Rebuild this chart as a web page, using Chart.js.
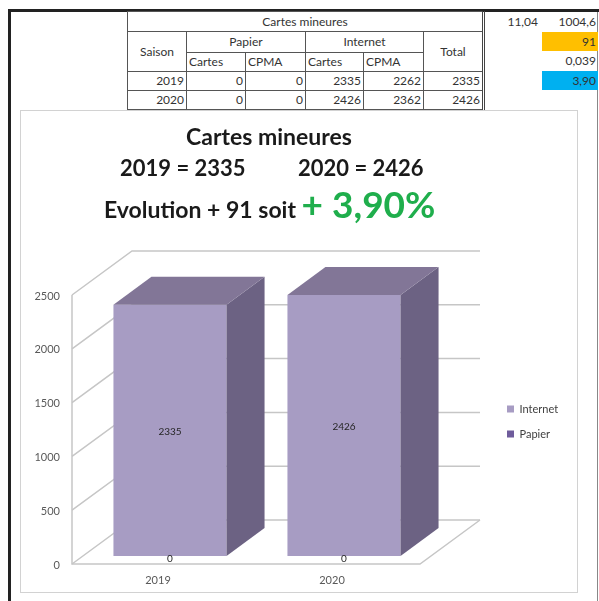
<!DOCTYPE html>
<html>
<head>
<meta charset="utf-8">
<script src="https://cdn.jsdelivr.net/npm/chart.js@4"></script>
<style>
body { margin: 0; width: 599px; height: 601px; position: relative; overflow: hidden; background: #fff; font-family: Lato, "Open Sans", sans-serif; }
.line { position: absolute; background: #222; }
table.sheet { position: absolute; left: 127px; top: 11px; border-collapse: collapse; table-layout: fixed; font-size: 12px; color: #333; }
table.sheet td { border: 1px solid #555; padding: 0 2px; white-space: nowrap; overflow: hidden; line-height: 14px; }
table.sheet td.c { text-align: center; }
table.sheet td.r { text-align: right; }
table.sheet td.last { border-right: 3px double #444; }
.side { position: absolute; width: 56px; height: 19px; line-height: 19px; text-align: right; font-size: 12px; color: #333; padding-right: 2px; box-sizing: border-box; }
#box { position: absolute; left: 20px; top: 110px; width: 556px; height: 481px; border: 1px solid #d2d2d2; }
.title { position: absolute; font-weight: bold; color: #1a1a1a; white-space: nowrap; }
</style>
</head>
<body>
<div class="line" style="left:8px;top:9px;width:3px;height:592px"></div>
<div class="line" style="left:8px;top:9px;width:591px;height:3px"></div>
<div class="line" style="left:597px;top:12px;width:1px;height:589px;background:#888"></div>

<table class="sheet" id="sheet">
  <colgroup><col style="width:59px"><col style="width:59px"><col style="width:60px"><col style="width:58px"><col style="width:60px"><col style="width:60px"></colgroup>
  <tr style="height:20px"><td colspan="6" class="c last">Cartes mineures</td></tr>
  <tr style="height:21px"><td rowspan="2" class="c">Saison</td><td colspan="2" class="c">Papier</td><td colspan="2" class="c">Internet</td><td rowspan="2" class="c last">Total</td></tr>
  <tr style="height:19px"><td>Cartes</td><td>CPMA</td><td>Cartes</td><td>CPMA</td></tr>
</table>

<div class="side" style="left:484px;top:12px">11,04</div>
<div class="side" style="left:542px;top:12px">1004,6</div>
<div class="side" style="left:542px;top:32px;background:#ffbf00">91</div>
<div class="side" style="left:542px;top:51px">0,039</div>
<div class="side" style="left:542px;top:71px;background:#00b0f0">3,90</div>

<div id="box"><canvas id="chart" width="556" height="481"></canvas></div>

<div class="title" style="left:0;width:538px;text-align:center;top:122px;font-size:23px">Cartes mineures</div>
<div class="title" id="t19" style="left:120px;top:154px;font-size:22px"></div>
<div class="title" id="t20" style="left:298px;top:154px;font-size:22px"></div>
<div class="title" style="left:104px;top:184px;font-size:23px;line-height:40px">Evolution + 91 soit <span style="color:#1fae4c;font-size:37px;vertical-align:baseline">+ 3,90%</span></div>

<script>
// table values
const saisons = ['2019', '2020'];
const papierCartes = [0, 0];
const papierCpma = [0, 0];
const internetCartes = [2335, 2426];
const internetCpma = [2262, 2362];
const totaux = [2335, 2426];

// y axis
const yMax = 2500;
const yStep = 500;

const frontColor = '#a79cc3';
const topColor = '#827697';
const sideColor = '#6c6283';
const papierColor = '#6f5c9c';

// fill the sheet rows
const sheet = document.getElementById('sheet');
saisons.forEach((s, i) => {
    const tr = sheet.insertRow();
    tr.style.height = '19px';
    [s, papierCartes[i], papierCpma[i], internetCartes[i], internetCpma[i], totaux[i]].forEach((v, j) => {
        const td = tr.insertCell();
        td.className = j === 5 ? 'r last' : 'r';
        td.textContent = v;
    });
});
document.getElementById('t19').textContent = saisons[0] + ' = ' + totaux[0];
document.getElementById('t20').textContent = saisons[1] + ' = ' + totaux[1];

// fake 3D: offsets from the bar plane
const BAR_DEPTH = [38, -28];
const FRONT = [-11, 8];
const BACK = [49, -36];

const box3d = {
    id: 'box3d',
    beforeDatasetsDraw(chart) {
        const { ctx, chartArea: a, scales: { y } } = chart;
        const y0 = y.getPixelForValue(0);
        const yTop = y.getPixelForValue(yMax);
        ctx.save();
        ctx.strokeStyle = '#c6c6c6';
        ctx.lineWidth = 1.5;
        ctx.beginPath();
        ctx.moveTo(a.left + FRONT[0], yTop + FRONT[1]);
        ctx.lineTo(a.left + FRONT[0], y0 + FRONT[1]);
        ctx.lineTo(a.right + FRONT[0], y0 + FRONT[1]);
        ctx.lineTo(a.right + BACK[0], y0 + BACK[1]);
        ctx.stroke();
        y.ticks.forEach(t => {
            const py = y.getPixelForValue(t.value);
            ctx.beginPath();
            ctx.moveTo(a.left + FRONT[0], py + FRONT[1]);
            ctx.lineTo(a.left + BACK[0], py + BACK[1]);
            ctx.lineTo(a.right + BACK[0], py + BACK[1]);
            ctx.stroke();
        });
        ctx.restore();
    },
    afterDatasetsDraw(chart) {
        const ctx = chart.ctx;
        ctx.save();
        // side and top faces of the top series
        chart.getDatasetMeta(1).data.forEach(bar => {
            const { x, y, base, width } = bar.getProps(['x', 'y', 'base', 'width'], true);
            const l = x - width / 2, r = x + width / 2;
            const [dx, dy] = BAR_DEPTH;
            ctx.fillStyle = sideColor;
            ctx.beginPath();
            ctx.moveTo(r, y); ctx.lineTo(r + dx, y + dy); ctx.lineTo(r + dx, base + dy); ctx.lineTo(r, base);
            ctx.closePath(); ctx.fill();
            ctx.fillStyle = topColor;
            ctx.beginPath();
            ctx.moveTo(l, y); ctx.lineTo(l + dx, y + dy); ctx.lineTo(r + dx, y + dy); ctx.lineTo(r, y);
            ctx.closePath(); ctx.fill();
        });
        // value labels
        ctx.font = '10px Lato';
        ctx.fillStyle = '#262626';
        ctx.textAlign = 'center';
        ctx.textBaseline = 'middle';
        chart.data.datasets.forEach((ds, di) => {
            chart.getDatasetMeta(di).data.forEach((bar, i) => {
                const { x, y, base } = bar.getProps(['x', 'y', 'base'], true);
                const yy = ds.data[i] === 0 ? base + 3 : (y + base) / 2 + 1;
                ctx.fillText(ds.data[i], x, yy);
            });
        });
        ctx.restore();
    }
};

const chart = new Chart(document.getElementById('chart'), {
    type: 'bar',
    data: {
        labels: saisons,
        datasets: [
            { label: 'Papier', data: papierCartes, backgroundColor: papierColor, yAxisID: 'y' },
            { label: 'Internet', data: internetCartes, backgroundColor: frontColor, yAxisID: 'y' }
        ]
    },
    options: {
        responsive: false,
        animation: false,
        layout: { padding: { top: 176, left: 0, bottom: 0, right: 0 } },
        datasets: { bar: { categoryPercentage: 1, barPercentage: 0.65 } },
        plugins: {
            legend: {
                position: 'right',
                fullSize: false,
                reverse: true,
                labels: { boxWidth: 7, boxHeight: 7, padding: 14, color: '#404040', font: { family: 'Lato', size: 11 } }
            },
            tooltip: { enabled: false }
        },
        scales: {
            x: {
                stacked: true,
                grid: { display: false, drawTicks: false },
                border: { display: false },
                ticks: { labelOffset: -12, padding: 18, color: '#595959', font: { family: 'Lato', size: 11 } },
                afterFit(s) { s.height = 36; }
            },
            y: {
                stacked: true,
                min: 0,
                max: yMax,
                grid: { display: false, drawTicks: false },
                border: { display: false },
                ticks: {
                    stepSize: yStep, labelOffset: 9, padding: 23, color: '#595959', font: { family: 'Lato', size: 11 },
                    callback: v => String(v)
                },
                afterFit(s) { s.width = 62; }
            },
            // spacer that pushes the legend away from the plot
            y2: {
                position: 'right',
                grid: { display: false, drawTicks: false },
                border: { display: false },
                ticks: { display: false },
                afterFit(s) { s.width = 62; }
            }
        }
    },
    plugins: [box3d]
});

// make the plot area land where the reference has it
chart.options.layout.padding.right = 556 - 410 - 62 - chart.legend.width;
chart.update('none');
</script>
</body>
</html>
